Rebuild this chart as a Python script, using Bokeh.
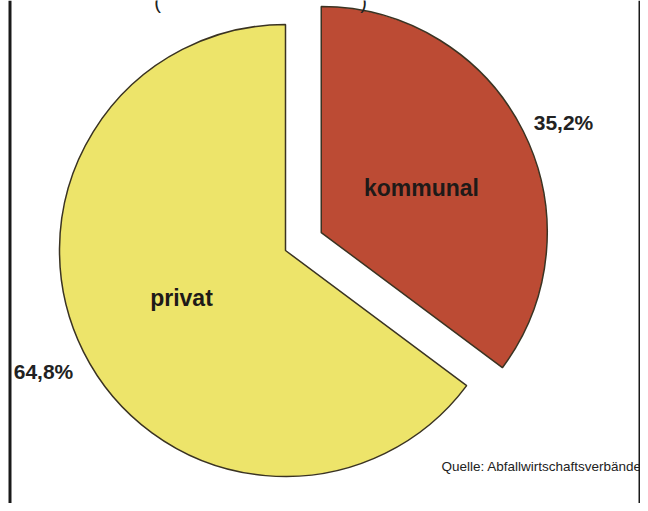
import math
from bokeh.plotting import figure
from bokeh.models import Range1d, ColumnDataSource
from bokeh.core.properties import value
from bokeh.embed import file_html
from bokeh.resources import INLINE

# ---- data ----
categories = ["kommunal", "privat"]
shares = [35.2, 64.8]
colors = ["#BC4B34", "#EDE46A"]
source_text = "Quelle: Abfallwirtschaftsverbände"

W, H = 640, 503
PAGE_H = 511

p = figure(width=W, height=H, output_backend="svg", toolbar_location=None,
           x_range=Range1d(0, W), y_range=Range1d(PAGE_H - H, PAGE_H),
           min_border=0, background_fill_color="white", border_fill_color="white")
p.axis.visible = False
p.grid.visible = False
p.outline_line_color = None

def sy(y):
    return PAGE_H - y

# pie geometry
cx, cy = 285.0, sy(250.0)
radius = 226.0
explode = [40.0, 0.0]

total = sum(shares)
xs, ys, starts, ends = [], [], [], []
# first slice runs clockwise from 12 o'clock
angle = math.pi / 2
for v, e in zip(shares, explode):
    sweep = 2 * math.pi * v / total
    if not starts:
        s, en = angle - sweep, angle
    else:
        s, en = angle, angle + sweep
    mid = (s + en) / 2
    xs.append(cx + e * math.cos(mid))
    ys.append(cy + e * math.sin(mid))
    starts.append(s)
    ends.append(en)

src = ColumnDataSource(dict(x=xs, y=ys, start=starts, end=ends, color=colors,
                            cat=categories))
p.wedge(x="x", y="y", radius=radius, start_angle="start", end_angle="end",
        fill_color="color", line_color="#3a3322", line_width=1.5, source=src)

# category labels
cat_pos = [(421, sy(187)), (181, sy(297))]
p.text(x=[q[0] for q in cat_pos], y=[q[1] for q in cat_pos], text=categories,
       text_font=value("Liberation Sans"), text_font_style="bold",
       text_font_size="23px", text_color="#1e1a18", text_align="center",
       text_baseline="alphabetic")

# percentage labels
pct_text = [f"{v:.1f}".replace(".", ",") + "%" for v in shares]
pct_pos = [(563, sy(121.5)), (43, sy(370.5))]
p.text(x=[q[0] for q in pct_pos], y=[q[1] for q in pct_pos], text=pct_text,
       text_font=value("Liberation Sans"), text_font_style="bold",
       text_font_size="21px", text_color="#222222", text_align="center",
       text_baseline="alphabetic")

# source note
p.text(x=[441], y=[sy(466)], text=[source_text],
       text_font=value("Liberation Sans"), text_font_size="13.5px",
       text_color="#222222", text_align="left", text_baseline="alphabetic")

# parentheses of the (cut-off) title
p.text(x=[157, 363], y=[sy(1), sy(1)], text=["(", ")"],
       text_font=value("Liberation Sans"), text_font_size="20px",
       text_color="#222222", text_align="center", text_baseline="alphabetic")

# frame lines left / right
p.segment(x0=[9.5, 639.5], y0=[sy(511), sy(511)], x1=[9.5, 639.5], y1=[sy(0), sy(0)],
          line_color="#1a1a1a", line_width=3)

open("out.html", "w").write(file_html(p, INLINE))
